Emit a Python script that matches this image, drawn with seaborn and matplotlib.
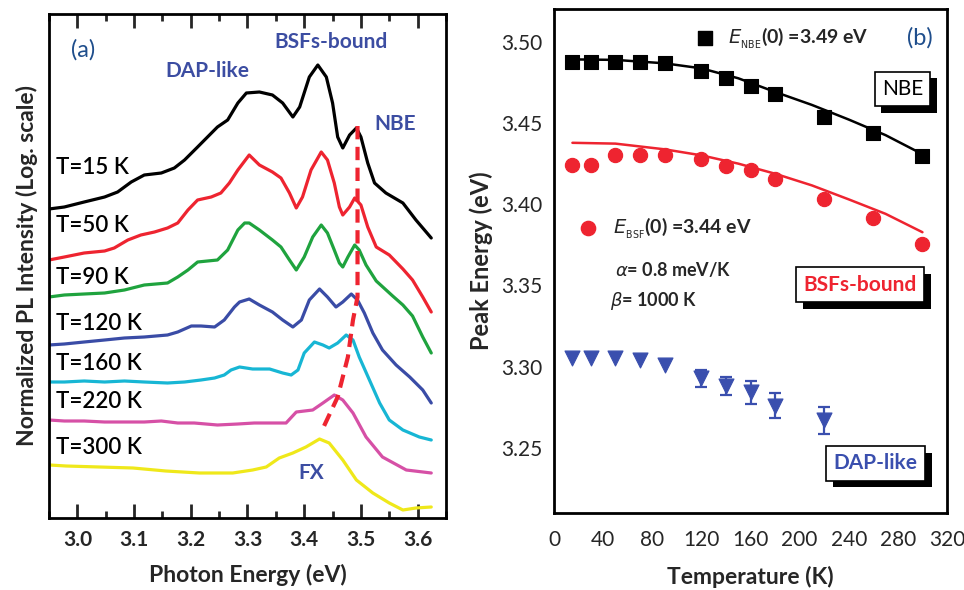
import numpy as np
import pandas as pd
import matplotlib
matplotlib.use("Agg")
import matplotlib.pyplot as plt
import matplotlib.patheffects as pe
from matplotlib.ticker import MultipleLocator
import seaborn as sns

sns.set_theme(style="white")
plt.rcParams['font.family'] = ['Lato', 'DejaVu Sans']
plt.rcParams['mathtext.fontset'] = 'dejavusans'

# ---------------- Panel (a): PL spectra (offset, arbitrary units) ----------------
temps_a = ["T=15 K", "T=50 K", "T=90 K", "T=120 K", "T=160 K", "T=220 K", "T=300 K"]
colors_a = ["#000000", "#EE2430", "#1FA33E", "#3A4CA6", "#17B6D4", "#D650A6", "#EFE81A"]

e_15 = [2.95, 2.977, 3.012, 3.048, 3.071, 3.095, 3.118, 3.148, 3.171, 3.189, 3.212, 3.247, 3.265, 3.283, 3.298,
        3.321, 3.344, 3.362, 3.380, 3.392, 3.409, 3.424, 3.439, 3.450, 3.459, 3.468, 3.480, 3.492, 3.500, 3.512,
        3.524, 3.544, 3.574, 3.597, 3.624]
i_15 = [309, 311, 316, 321, 326, 336, 343, 345, 350, 358, 371, 391, 398, 415, 425,
        426, 423, 415, 401, 411, 441, 453, 441, 415, 381, 370, 383, 390, 381, 355,
        335, 325, 315, 298, 280]

e_50 = [2.95, 2.977, 3.012, 3.048, 3.065, 3.089, 3.112, 3.136, 3.159, 3.177, 3.195, 3.212, 3.236, 3.253, 3.268,
        3.283, 3.303, 3.321, 3.344, 3.359, 3.374, 3.386, 3.397, 3.412, 3.430, 3.441, 3.453, 3.462, 3.468, 3.480,
        3.489, 3.500, 3.512, 3.527, 3.550, 3.574, 3.591, 3.609, 3.624]
i_50 = [258, 261, 265, 267, 270, 278, 283, 286, 290, 295, 308, 318, 321, 325, 335,
        348, 363, 353, 346, 340, 325, 310, 321, 348, 366, 358, 335, 311, 303, 311,
        320, 313, 291, 271, 263, 249, 238, 221, 206]

e_90 = [2.95, 2.977, 3.012, 3.048, 3.083, 3.118, 3.159, 3.177, 3.195, 3.212, 3.247, 3.265, 3.283, 3.295, 3.303,
        3.321, 3.344, 3.359, 3.374, 3.386, 3.400, 3.415, 3.430, 3.441, 3.453, 3.462, 3.468, 3.477, 3.489, 3.497,
        3.509, 3.527, 3.556, 3.574, 3.591, 3.609, 3.624]
i_90 = [221, 223, 224, 225, 228, 233, 235, 241, 248, 256, 258, 268, 288, 295, 295,
        288, 278, 271, 258, 248, 261, 281, 293, 285, 268, 255, 251, 261, 273, 268,
        253, 237, 222, 213, 202, 181, 165]

e_120 = [2.95, 2.977, 3.012, 3.048, 3.083, 3.118, 3.159, 3.177, 3.201, 3.218, 3.242, 3.259, 3.277, 3.286, 3.303,
         3.321, 3.344, 3.362, 3.380, 3.395, 3.409, 3.427, 3.441, 3.456, 3.468, 3.483, 3.494, 3.506, 3.521, 3.538,
         3.562, 3.586, 3.609, 3.624]
i_120 = [173, 174, 176, 178, 180, 181, 183, 186, 192, 192, 191, 198, 211, 216, 219,
         213, 206, 198, 191, 198, 218, 229, 221, 211, 216, 224, 218, 205, 185, 168,
         153, 141, 128, 115]

e_160 = [2.95, 2.977, 3.012, 3.048, 3.083, 3.118, 3.159, 3.189, 3.218, 3.242, 3.259, 3.271, 3.286, 3.309, 3.339,
         3.362, 3.377, 3.389, 3.400, 3.418, 3.433, 3.444, 3.459, 3.474, 3.486, 3.497, 3.515, 3.533, 3.550, 3.574,
         3.603, 3.624]
i_160 = [136, 136, 137, 136, 137, 136, 135, 136, 138, 140, 143, 148, 151, 149, 149,
         145, 143, 148, 165, 176, 173, 170, 175, 183, 178, 161, 138, 115, 98, 88,
         81, 78]

e_220 = [2.95, 2.977, 3.012, 3.048, 3.083, 3.118, 3.148, 3.177, 3.206, 3.247, 3.283, 3.312, 3.368, 3.386, 3.415,
         3.433, 3.453, 3.468, 3.486, 3.509, 3.538, 3.580, 3.624]
i_220 = [98, 97, 97, 96, 96, 96, 97, 95, 95, 93, 94, 95, 95, 106, 108,
         115, 123, 118, 105, 81, 61, 48, 45]

e_300 = [2.951, 2.980, 3.039, 3.098, 3.156, 3.215, 3.274, 3.309, 3.333, 3.356, 3.380, 3.403, 3.427, 3.444, 3.468,
         3.492, 3.521, 3.550, 3.574, 3.597, 3.624]
i_300 = [53, 52, 51, 50, 47, 45, 45, 48, 51, 60, 65, 71, 79, 75, 58,
         38, 25, 15, 8, 10, 11]

# NBE/FX peak trace (dashed)
trace_e = [3.494, 3.494, 3.486, 3.477, 3.459, 3.430]
trace_i = [392, 221, 198, 161, 121, 86]

# ---------------- Panel (b): peak energies vs temperature ----------------
T_nbe = [15, 30, 50, 70, 90, 120, 140, 160, 180, 220, 260, 300]
E_nbe = [3.4877, 3.4877, 3.4877, 3.4877, 3.4866, 3.4821, 3.4774, 3.4728, 3.4679, 3.4537, 3.4438, 3.4294]
T_nbe_fit = [15, 50, 90, 120, 150, 180, 210, 240, 270, 300]
E_nbe_fit = [3.4890, 3.4887, 3.4866, 3.4835, 3.4774, 3.4690, 3.4610, 3.4520, 3.4424, 3.4307]

T_bsf = [15, 30, 50, 70, 90, 120, 140, 160, 180, 220, 260, 300]
E_bsf = [3.4243, 3.4243, 3.4305, 3.4305, 3.4305, 3.4280, 3.4235, 3.4208, 3.4152, 3.4033, 3.3916, 3.3755]
T_bsf_fit = [15, 50, 90, 120, 150, 180, 210, 240, 270, 300]
E_bsf_fit = [3.4377, 3.4372, 3.4337, 3.4300, 3.4249, 3.4187, 3.4115, 3.4029, 3.3940, 3.3827]

T_dap = [15, 30, 50, 70, 90, 120, 140, 160, 180, 220]
E_dap = [3.3056, 3.3056, 3.3056, 3.3039, 3.3010, 3.2928, 3.2883, 3.2843, 3.2761, 3.2670]
err_dap = [0, 0, 0, 0, 0, 0.0050, 0.0055, 0.0070, 0.0076, 0.0085]

# ---------------- Figure ----------------
fig = plt.figure(figsize=(9.64, 5.90), dpi=100)
axa = fig.add_axes([49 / 964, 1 - 518 / 590, (446 - 49) / 964, (518 - 14) / 590])
axb = fig.add_axes([554 / 964, 1 - 513 / 590, (947 - 554) / 964, (513 - 9) / 590])

# --- panel a
rows = []
for lab, ee, ii in zip(temps_a,
                       [e_15, e_50, e_90, e_120, e_160, e_220, e_300],
                       [i_15, i_50, i_90, i_120, i_160, i_220, i_300]):
    for e, i in zip(ee, ii):
        rows.append((lab, e, i))
df_a = pd.DataFrame(rows, columns=["T", "E", "I"])
sns.lineplot(data=df_a, x="E", y="I", hue="T", palette=colors_a, hue_order=temps_a,
             sort=False, estimator=None, lw=2.3, legend=False, ax=axa)
axa.plot(trace_e, trace_i, color="#EE2430", lw=3, dashes=(3.2, 1.8), zorder=5)

axa.set_xlim(2.95, 3.65)
axa.set_ylim(0, 504)
axa.xaxis.set_major_locator(MultipleLocator(0.1))
axa.xaxis.set_minor_locator(MultipleLocator(0.05))
axa.set_yticks([])
axa.tick_params(axis="x", which="both", direction="in", top=True, bottom=True, width=2,
                labelsize=15, pad=9)
axa.tick_params(axis="x", which="major", length=10)
axa.tick_params(axis="x", which="minor", length=5)
for lbl in axa.get_xticklabels():
    lbl.set_fontweight("bold")
for sp in axa.spines.values():
    sp.set_linewidth(2)
    sp.set_color("black")
axa.set_xlabel("Photon Energy (eV)", fontsize=16.5, fontweight="bold", labelpad=10)
axa.set_ylabel("Normalized PL Intensity (Log. scale)", fontsize=16.5, fontweight="bold", labelpad=8)

label_y = [350, 293, 240, 195, 155, 116, 71]
for lab, ly in zip(temps_a, label_y):
    axa.text(2.963, ly, lab, fontsize=16, fontweight="semibold", color="black", va="center", ha="left")

blue_txt = "#3C4DA2"
axa.text(3.010, 468, "(a)", fontsize=17, color="#1F4E8C", va="center", ha="center")
axa.text(3.230, 447, "DAP-like", fontsize=15, fontweight="bold", color=blue_txt, va="center", ha="center")
axa.text(3.447, 476, "BSFs-bound", fontsize=15, fontweight="bold", color=blue_txt, va="center", ha="center")
axa.text(3.561, 394, "NBE", fontsize=15, fontweight="bold", color=blue_txt, va="center", ha="center")
axa.text(3.413, 45, "FX", fontsize=15, fontweight="bold", color=blue_txt, va="center", ha="center")

# --- panel b
df_nbe = pd.DataFrame({"T": T_nbe, "E": E_nbe})
df_bsf = pd.DataFrame({"T": T_bsf, "E": E_bsf})
df_dap = pd.DataFrame({"T": T_dap, "E": E_dap, "err": err_dap})
df_nfit = pd.DataFrame({"T": T_nbe_fit, "E": E_nbe_fit})
df_bfit = pd.DataFrame({"T": T_bsf_fit, "E": E_bsf_fit})

red = "#EE2430"
blue = "#3A4FAE"
sns.lineplot(data=df_nfit, x="T", y="E", color="black", lw=1.8, ax=axb)
sns.lineplot(data=df_bfit, x="T", y="E", color=red, lw=1.8, ax=axb)
sns.scatterplot(data=df_nbe, x="T", y="E", marker="s", s=95, color="black", edgecolor="black", ax=axb, zorder=4)
sns.scatterplot(data=df_bsf, x="T", y="E", marker="o", s=105, color=red, edgecolor=red, ax=axb, zorder=4)
err = df_dap[df_dap["err"] > 0]
axb.errorbar(err["T"], err["E"], yerr=err["err"], fmt="none", ecolor=blue, elinewidth=1.6,
             capsize=4, capthick=1.6, zorder=3)
sns.scatterplot(data=df_dap, x="T", y="E", marker="v", s=115, color=blue, edgecolor=blue, ax=axb, zorder=4)

axb.set_xlim(0, 320)
axb.set_ylim(3.21, 3.52)
axb.xaxis.set_major_locator(MultipleLocator(40))
axb.xaxis.set_minor_locator(MultipleLocator(20))
axb.yaxis.set_major_locator(MultipleLocator(0.05))
axb.yaxis.set_minor_locator(MultipleLocator(0.025))
axb.yaxis.set_major_formatter(matplotlib.ticker.FormatStrFormatter("%.2f"))
axb.tick_params(axis="both", which="both", direction="in", width=2, labelsize=15,
                top=False, right=False)
axb.tick_params(axis="both", which="major", length=7)
axb.tick_params(axis="both", which="minor", length=4)
axb.tick_params(axis="x", pad=12)
axb.tick_params(axis="y", pad=8)
for sp in axb.spines.values():
    sp.set_linewidth(2)
    sp.set_color("black")
axb.set_xlabel("Temperature (K)", fontsize=16.5, fontweight="bold", labelpad=12)
axb.set_ylabel("Peak Energy (eV)", fontsize=17, fontweight="bold", labelpad=6)

axb.scatter([123], [3.5023], marker="s", s=95, color="black", zorder=4)
axb.text(142, 3.5023, r"$E_{_{\mathrm{NBE}}}$(0) =3.49 eV", fontsize=14, fontweight="bold",
         va="center", ha="left")
axb.scatter([28], [3.3854], marker="o", s=105, color=red, zorder=4)
axb.text(48, 3.3854, r"$E_{_{\mathrm{BSF}}}$(0) =3.44 eV", fontsize=14, fontweight="bold",
         va="center", ha="left")
axb.text(50, 3.3595, r"$\alpha$= 0.8 meV/K", fontsize=13, fontweight="bold", va="center", ha="left")
axb.text(46, 3.3405, r"$\beta$= 1000 K", fontsize=13, fontweight="bold", va="center", ha="left")
axb.text(298, 3.5023, "(b)", fontsize=17, color="#1F4E8C", va="center", ha="center")

shadow = [pe.withSimplePatchShadow(offset=(5, -5), shadow_rgbFace="black", alpha=1.0)]
for txt, x, y, c in [("NBE", 283.7, 3.4709, "black"),
                     ("BSFs-bound", 249, 3.3504, red),
                     ("DAP-like", 262, 3.2406, blue)]:
    t = axb.text(x, y, txt, fontsize=15, fontweight="bold" if c != "black" else "normal",
                 color=c, va="center", ha="center", zorder=6,
                 bbox=dict(boxstyle="square,pad=0.35", facecolor="white", edgecolor="black", lw=1.2))
    t.get_bbox_patch().set_path_effects(shadow)

fig.savefig("out.png", dpi=100)
